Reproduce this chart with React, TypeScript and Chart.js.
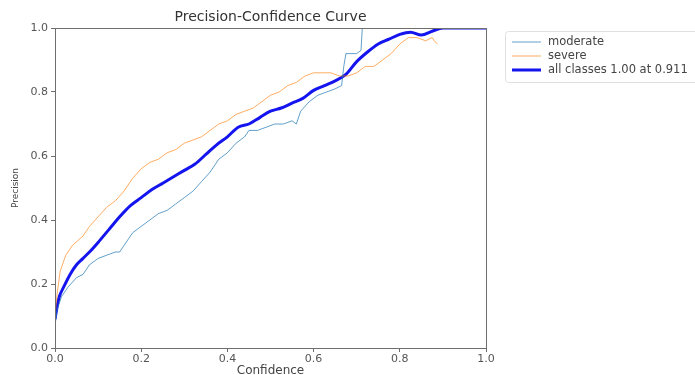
import React, { useEffect, useRef } from "react";
import { Chart, registerables } from "chart.js";

Chart.register(...registerables);

const titleText = "Precision-Confidence Curve";
const xTitle = "Confidence";
const yTitle = "Precision";
const tickValues = [0, 0.2, 0.4, 0.6, 0.8, 1.0];

const seriesLabels = ["moderate", "severe", "all classes 1.00 at 0.911"];

const moderateConf = [0.0, 0.005, 0.015, 0.03, 0.05, 0.065, 0.08, 0.1, 0.12, 0.14, 0.15, 0.16, 0.18, 0.2, 0.22, 0.24, 0.26, 0.28, 0.3, 0.32, 0.34, 0.36, 0.38, 0.4, 0.42, 0.44, 0.45, 0.47, 0.49, 0.51, 0.53, 0.55, 0.56, 0.57, 0.59, 0.61, 0.63, 0.65, 0.665, 0.67, 0.675, 0.7, 0.71, 0.713, 1.0];
const moderatePrec = [0.07, 0.12, 0.16, 0.19, 0.22, 0.23, 0.26, 0.28, 0.29, 0.3, 0.3, 0.32, 0.36, 0.38, 0.4, 0.42, 0.43, 0.45, 0.47, 0.49, 0.52, 0.55, 0.59, 0.61, 0.64, 0.66, 0.68, 0.68, 0.69, 0.7, 0.7, 0.71, 0.7, 0.74, 0.77, 0.79, 0.8, 0.81, 0.82, 0.88, 0.92, 0.92, 0.93, 1.0, 1.0];

const severeConf = [0.0, 0.005, 0.012, 0.025, 0.04, 0.065, 0.08, 0.1, 0.12, 0.14, 0.16, 0.18, 0.2, 0.22, 0.24, 0.26, 0.28, 0.3, 0.32, 0.34, 0.36, 0.38, 0.4, 0.42, 0.44, 0.46, 0.48, 0.5, 0.52, 0.54, 0.56, 0.58, 0.6, 0.62, 0.64, 0.66, 0.68, 0.7, 0.72, 0.74, 0.76, 0.78, 0.8, 0.82, 0.84, 0.86, 0.875, 0.88, 0.887];
const severePrec = [0.1, 0.17, 0.24, 0.29, 0.32, 0.35, 0.38, 0.41, 0.44, 0.46, 0.49, 0.53, 0.56, 0.58, 0.59, 0.61, 0.62, 0.64, 0.65, 0.66, 0.68, 0.7, 0.71, 0.73, 0.74, 0.75, 0.77, 0.79, 0.8, 0.82, 0.83, 0.85, 0.86, 0.86, 0.86, 0.85, 0.85, 0.86, 0.88, 0.88, 0.9, 0.92, 0.95, 0.97, 0.97, 0.96, 0.97, 0.96, 0.95];

const allConf = [0.0, 0.005, 0.01, 0.02, 0.035, 0.05, 0.065, 0.08, 0.1, 0.125, 0.15, 0.175, 0.2, 0.225, 0.25, 0.275, 0.3, 0.325, 0.35, 0.375, 0.4, 0.425, 0.45, 0.475, 0.5, 0.525, 0.55, 0.575, 0.6, 0.625, 0.65, 0.675, 0.7, 0.725, 0.75, 0.775, 0.8, 0.825, 0.85, 0.875, 0.9, 0.911, 1.0];
const allPrec = [0.09, 0.13, 0.16, 0.19, 0.23, 0.26, 0.28, 0.3, 0.33, 0.37, 0.41, 0.445, 0.47, 0.495, 0.515, 0.535, 0.555, 0.575, 0.605, 0.635, 0.66, 0.69, 0.7, 0.72, 0.74, 0.75, 0.765, 0.78, 0.805, 0.82, 0.835, 0.855, 0.895, 0.925, 0.95, 0.965, 0.98, 0.987, 0.978, 0.99, 1.0, 1.0, 1.0];

const colors = ["rgba(31,119,180,0.7)", "rgba(255,127,14,0.65)", "#1414ee"];
const widths = [1, 1, 3];

const FONT = "'DejaVu Sans', sans-serif";

const zip = (xs: number[], ys: number[]) => xs.map((x, i) => ({ x, y: ys[i] }));

const framePlugin = {
  id: "frameAndDecor",
  afterDatasetsDraw(chart: any) {
    const { ctx, chartArea } = chart;
    const { left, top, right, bottom } = chartArea;
    ctx.save();
    ctx.strokeStyle = "#6e6e6e";
    ctx.lineWidth = 1;
    ctx.strokeRect(left + 0.5, top + 0.5, right - left, bottom - top);
    ctx.fillStyle = "#333";
    ctx.font = `14px ${FONT}`;
    ctx.textAlign = "center";
    ctx.textBaseline = "middle";
    ctx.fillText(titleText, (left + right) / 2, 17);
    const lx = 505, ly = 31, lw = 200, lh = 51;
    ctx.fillStyle = "rgba(255,255,255,0.9)";
    ctx.strokeStyle = "#e0e0e0";
    ctx.beginPath();
    ctx.roundRect(lx + 0.5, ly + 0.5, lw, lh, 3);
    ctx.fill();
    ctx.stroke();
    ctx.font = `11.5px ${FONT}`;
    ctx.textAlign = "left";
    chart.data.datasets.forEach((ds: any, i: number) => {
      const y = ly + 11 + i * 14;
      ctx.strokeStyle = ds.borderColor;
      ctx.lineWidth = ds.borderWidth;
      ctx.beginPath();
      ctx.moveTo(512, y);
      ctx.lineTo(541, y);
      ctx.stroke();
      ctx.fillStyle = "#444";
      ctx.fillText(ds.label, 548, y);
    });
    ctx.restore();
  },
};

export default function App() {
  const ref = useRef<HTMLCanvasElement | null>(null);
  useEffect(() => {
    document.body.style.margin = "0";
    const canvas = ref.current!;
    const chart = new Chart(canvas, {
      type: "line",
      data: {
        datasets: [
          { label: seriesLabels[0], data: zip(moderateConf, moderatePrec), borderColor: colors[0], borderWidth: widths[0], pointRadius: 0, tension: 0, fill: false },
          { label: seriesLabels[1], data: zip(severeConf, severePrec), borderColor: colors[1], borderWidth: widths[1], pointRadius: 0, tension: 0, fill: false },
          { label: seriesLabels[2], data: zip(allConf, allPrec), borderColor: colors[2], borderWidth: widths[2], pointRadius: 0, cubicInterpolationMode: "monotone", fill: false },
        ],
      },
      options: {
        responsive: false,
        animation: false,
        events: [],
        layout: { padding: { top: 28, right: 209, left: 0, bottom: 0 } },
        plugins: { legend: { display: false }, title: { display: false }, tooltip: { enabled: false } },
        scales: {
          x: {
            type: "linear",
            min: 0,
            max: 1,
            afterBuildTicks: (s: any) => { s.ticks = tickValues.map((v) => ({ value: v })); },
            afterFit: (s: any) => { s.height = 27; },
            ticks: { callback: (v: any) => Number(v).toFixed(1), font: { size: 11, family: FONT }, color: "#555", padding: 1, maxRotation: 0 },
            grid: { display: true, drawOnChartArea: false, drawTicks: true, tickLength: 4, color: "#6e6e6e" },
            border: { display: true, color: "#6e6e6e" },
            title: { display: true, text: xTitle, font: { size: 12, family: FONT }, color: "#444", padding: { top: 4, bottom: -3 } },
          },
          y: {
            type: "linear",
            min: 0,
            max: 1,
            afterBuildTicks: (s: any) => { s.ticks = tickValues.map((v) => ({ value: v })); },
            afterFit: (s: any) => { s.width = 55; },
            ticks: { callback: (v: any) => Number(v).toFixed(1), font: { size: 11, family: FONT }, color: "#555", padding: 3 },
            grid: { display: true, drawOnChartArea: false, drawTicks: true, tickLength: 4, color: "#6e6e6e" },
            border: { display: true, color: "#6e6e6e" },
            title: { display: true, text: yTitle, font: { size: 9, family: FONT }, color: "#444", padding: { top: 10, bottom: 0 } },
          },
        },
      },
      plugins: [framePlugin],
    } as any);
    return () => chart.destroy();
  }, []);
  return (
    <div style={{ position: "absolute", left: 0, top: 0, width: 695, height: 375, background: "#fff" }}>
      <canvas ref={ref} width={695} height={375} />
    </div>
  );
}
